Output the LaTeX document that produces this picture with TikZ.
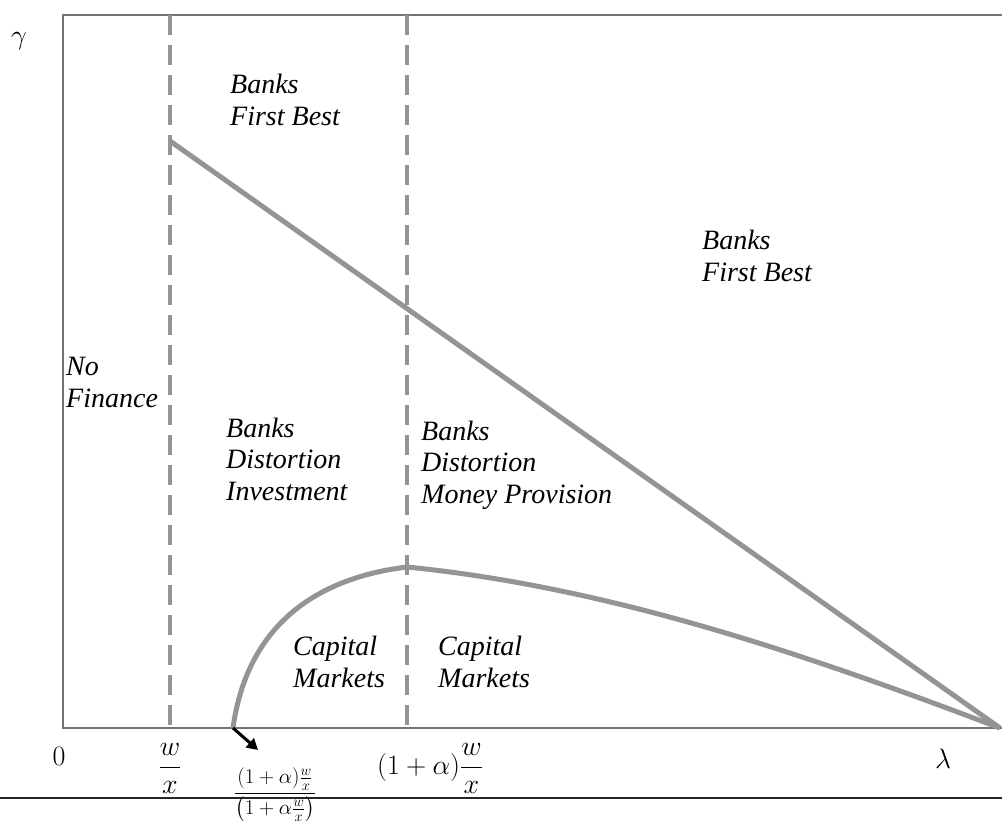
\RequirePackage{fix-cm}
\documentclass[tikz,border=0pt]{standalone}
\usepackage{fontspec}
\setmainfont{Liberation Serif}
\usepackage{amsmath}
\usetikzlibrary{arrows.meta}
\begin{document}
\begin{tikzpicture}[x=1pt,y=-1pt,
  lbl/.style={font=\fontsize{28}{31.5}\selectfont\itshape, align=left, anchor=base west, inner sep=0pt},
  mth/.style={font=\fontsize{28}{32}\selectfont, inner sep=0pt, anchor=base},
  frameline/.style={draw=black!55, line width=1.3pt},
  divider/.style={draw=black!42, line width=4pt, dash pattern=on 20pt off 10pt},
  curveline/.style={draw=black!42, line width=5pt, line join=round},
  rule/.style={draw=black!85, line width=1.2pt},
  pointer/.style={draw=black, line width=3pt, -{Triangle[length=11pt,width=12pt]}}
]
\useasboundingbox (0,0) rectangle (1002,827);
\clip (0,0) rectangle (1002,827);

% coordinates
\coordinate (TR) at (1002,15);
\coordinate (TL) at (63,15);
\coordinate (O) at (63,728);
\coordinate (BR) at (1002,728);
\coordinate (T1) at (170,15);
\coordinate (B1) at (170,728);
\coordinate (T2) at (407,15);
\coordinate (B2) at (407,728);
\coordinate (K) at (170,141);
\coordinate (E) at (1000,728);
\coordinate (P) at (407,567);
\coordinate (S) at (233,728);
\coordinate (ArrEnd) at (258,750);
\coordinate (R0) at (0,798);
\coordinate (R1) at (1002,798);

% frame
\draw[frameline] (TR) -- (TL) -- (O) -- (BR);

% dashed dividers
\draw[divider] (T1) -- (B1);
\draw[divider] (T2) -- (B2);

% curves
\draw[curveline] (K) -- (E);
\draw[curveline] (S) .. controls (245,640) and (300,580) .. (P);
\draw[curveline] (P) .. controls (607,587) and (800,652) .. (E);

% arrow
\draw[pointer] (S) -- (ArrEnd);

% bottom rule
\draw[rule] (R0) -- (R1);

% axis labels
\node[mth] (gam) at (19,44) {$\gamma$};
\node[mth] (zero) at (59,765) {$0$};
\node[mth] (wx) at (170,774) {$\dfrac{w}{x}$};
\node[mth] (awx) at (430,774) {$(1+\alpha)\dfrac{w}{x}$};
\node[mth, font=\fontsize{21}{24}\selectfont] (thr) at (275,799) {$\dfrac{(1+\alpha)\frac{w}{x}}{\left(1+\alpha\frac{w}{x}\right)}$};
\node[mth] (lam) at (943,768) {$\lambda$};

% region labels (anchor = baseline of last line)
\node[lbl] (bfb1) at (230,125) {Banks\\First Best};
\node[lbl] (bfb2) at (702,281) {Banks\\First Best};
\node[lbl] (nof) at (66,407) {No\\Finance};
\node[lbl] (bdi) at (226,500) {Banks\\Distortion\\Investment};
\node[lbl] (bdm) at (421,503) {Banks\\Distortion\\Money Provision};
\node[lbl] (cm1) at (293,687) {Capital\\Markets};
\node[lbl] (cm2) at (438,687) {Capital\\Markets};
\end{tikzpicture}
\end{document}
